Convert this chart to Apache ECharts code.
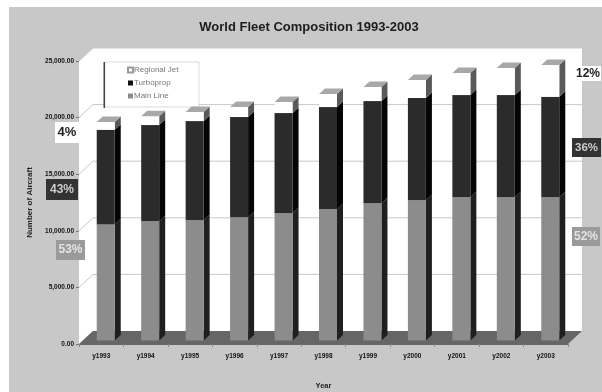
<!DOCTYPE html>
<html>
<head>
<meta charset="utf-8">
<style>html,body{margin:0;padding:0;background:#fff}#chart{width:602px;height:392px}</style>
<script src="https://cdn.jsdelivr.net/npm/echarts@6/dist/echarts.min.js"></script>
</head>
<body>
<div id="chart"></div>
<script>
const years = ['y1993','y1994','y1995','y1996','y1997','y1998','y1999','y2000','y2001','y2002','y2003'];
const mainLine = [10240,10530,10620,10890,11240,11600,12120,12390,12650,12650,12660];
const turboprop = [8380,8500,8760,8850,8850,9020,9030,9030,9030,9030,8870];
const regionalJet = [680,790,800,880,970,1150,1240,1590,1950,2390,2810];
const yTicks = [0,5000,10000,15000,20000,25000];
const shareLeft = ['4%','43%','53%'];
const shareRight = ['12%','36%','52%'];

const FONT = '"Liberation Sans", Arial, sans-serif';
const WALL_DX = 14, WALL_DY = 13;        // depth of the 3D box
const BAR_DX = 4.5, BAR_DY = 3.5;        // bars stand inside the floor
const SIDE_DX = 6, SIDE_DY = 5.5;        // depth of one column

function poly(points, fill, z2) {
  return { type: 'polygon', shape: { points }, style: { fill }, z2: z2 || 0 };
}

// Back wall, side wall, floor and grid lines of the box
function renderWalls(params, api) {
  const x0 = params.coordSys.x, x1 = x0 + params.coordSys.width;
  const y0 = api.coord([0, 0])[1];
  const yTop = api.coord([0, yTicks[yTicks.length - 1]])[1];
  const children = [
    poly([[x0, y0], [x0 + WALL_DX, y0 - WALL_DY], [x0 + WALL_DX, yTop - WALL_DY], [x0, yTop]], '#fff'),
    poly([[x0 + WALL_DX, y0 - WALL_DY], [x1 + WALL_DX, y0 - WALL_DY], [x1 + WALL_DX, yTop - WALL_DY], [x0 + WALL_DX, yTop - WALL_DY]], '#fff'),
    poly([[x0, y0], [x1, y0], [x1 + WALL_DX, y0 - WALL_DY], [x0 + WALL_DX, y0 - WALL_DY]], '#666')
  ];
  yTicks.slice(1).forEach(function (t) {
    const y = api.coord([0, t])[1];
    children.push({
      type: 'polyline',
      shape: { points: [[x0, y], [x0 + WALL_DX, y - WALL_DY], [x1 + WALL_DX, y - WALL_DY]] },
      style: { fill: 'none', stroke: '#c8c8c8', lineWidth: 1 }
    });
  });
  return { type: 'group', children };
}

// One stacked segment: front face, right side and optional lid
function makeRender(front, side, lid) {
  return function (params, api) {
    const cat = api.value(0);
    const cx = api.coord([cat, 0])[0];
    const w = api.size([1, 0])[0] * 0.405;
    const l = cx - w / 2 + BAR_DX, r = l + w;
    const yb = api.coord([cat, api.value(1)])[1] - BAR_DY;
    const yt = api.coord([cat, api.value(2)])[1] - BAR_DY;
    const children = [
      poly([[r, yb], [r + SIDE_DX, yb - SIDE_DY], [r + SIDE_DX, yt - SIDE_DY], [r, yt]], side),
      poly([[l, yb], [r, yb], [r, yt], [l, yt]], front)
    ];
    if (lid) {
      children.push(poly([[l, yt], [r, yt], [r + SIDE_DX, yt - SIDE_DY], [l + SIDE_DX, yt - SIDE_DY]], lid));
    }
    return { type: 'group', children };
  };
}

// Stack the three fleets into [category, base, top] rows
function stacked(values, below) {
  return values.map(function (v, i) {
    const base = below.reduce(function (s, arr) { return s + arr[i]; }, 0);
    return [i, base, base + v];
  });
}

function segment(name, values, below, legendColor, front, side, lid, border) {
  return {
    type: 'custom', name, z: 3, clip: false,
    renderItem: makeRender(front, side, lid),
    encode: { x: 0, y: [1, 2] },
    itemStyle: { color: legendColor, borderColor: border || legendColor, borderWidth: border ? 0.5 : 0 },
    data: stacked(values, below)
  };
}

// Percentage tag with its coloured box
function tag(text, x, y, w, h, fill, color, size) {
  return [
    { type: 'rect', z: 10, shape: { x, y, width: w, height: h }, style: { fill } },
    { type: 'text', z: 11, x: x + w / 2, y: y + h / 2,
      style: { text, fill: color, font: 'bold ' + size + 'px ' + FONT, align: 'center', verticalAlign: 'middle' } }
  ];
}

const chart = echarts.init(document.getElementById('chart'), null, { renderer: 'canvas' });
chart.setOption({
  animation: false,
  backgroundColor: '#fff',
  title: {
    text: 'World Fleet Composition 1993-2003', left: 304, top: 16, textAlign: 'center',
    textStyle: { fontFamily: FONT, fontSize: 13, fontWeight: 'bold', color: '#1c1c1c' }
  },
  grid: { left: 79, top: 61, width: 489, height: 283, outerBoundsMode: 'none' },
  legend: {
    orient: 'vertical', left: 122, top: 61, itemWidth: 5, itemHeight: 5, itemGap: 5,
    selectedMode: false, z: 6,
    data: [{ name: 'Regional Jet', icon: 'rect' }, { name: 'Turboprop', icon: 'rect' }, { name: 'Main Line', icon: 'rect' }],
    textStyle: { fontFamily: FONT, fontSize: 8, color: '#777', padding: [0, 0, 0, -4] }
  },
  xAxis: {
    type: 'category', data: years, name: 'Year', nameLocation: 'middle', nameGap: 38, z: 5,
    nameTextStyle: { fontFamily: FONT, fontSize: 7.5, fontWeight: 'bold', color: '#222' },
    axisLine: { lineStyle: { color: '#666', width: 1 } },
    axisTick: { show: true, length: 3, lineStyle: { color: '#888' } },
    axisLabel: { fontFamily: FONT, fontSize: 6.5, fontWeight: 'bold', color: '#111', margin: 9, interval: 0 }
  },
  yAxis: {
    type: 'value', min: 0, max: 25000, interval: 5000, z: 5,
    name: 'Number of Aircraft', nameLocation: 'middle', nameGap: 36, nameRotate: 90,
    nameTextStyle: { fontFamily: FONT, fontSize: 8, fontWeight: 'bold', color: '#222' },
    axisLine: { show: false },
    axisTick: { show: true, length: 3, lineStyle: { color: '#777' } },
    axisLabel: {
      fontFamily: FONT, fontSize: 6.5, fontWeight: 'bold', color: '#111', margin: 5,
      formatter: function (v) { return v.toLocaleString('en-US', { minimumFractionDigits: 2 }); }
    },
    splitLine: { show: false }
  },
  graphic: [
    { type: 'rect', z: -10, shape: { x: 9, y: 7, width: 593, height: 385 }, style: { fill: '#c8c8c8' } },
    { type: 'rect', z: 2, shape: { x: 105, y: 62, width: 94, height: 45 },
      style: { fill: '#fff', stroke: '#c4c4c4', lineWidth: 0.6 } },
    { type: 'rect', z: 2, shape: { x: 103.5, y: 62, width: 1.5, height: 46 }, style: { fill: '#444' } }
  ].concat(
    tag(shareLeft[0], 55, 122, 24, 21, '#fff', '#222', 13),
    tag(shareLeft[1], 46, 179, 32, 21, '#333', '#ccc', 12),
    tag(shareLeft[2], 56, 240, 29, 20, '#9a9a9a', '#e4e4e4', 12),
    tag(shareRight[0], 575, 66, 26, 15, '#fff', '#222', 12),
    tag(shareRight[1], 572, 138, 29, 19, '#333', '#ccc', 11.5),
    tag(shareRight[2], 572, 227, 28, 19, '#9a9a9a', '#e4e4e4', 12)
  ),
  series: [
    { type: 'custom', name: 'walls', z: 1, clip: false, silent: true, renderItem: renderWalls, data: [[0, 0]] },
    segment('Main Line', mainLine, [], '#8c8c8c', '#8c8c8c', '#1f1f1f', null),
    segment('Turboprop', turboprop, [mainLine], '#111', '#2b2b2b', '#050505', null),
    segment('Regional Jet', regionalJet, [mainLine, turboprop], '#fff', '#fff', '#5a5a5a', '#a8a8a8', '#999')
  ]
});
</script>
</body>
</html>
